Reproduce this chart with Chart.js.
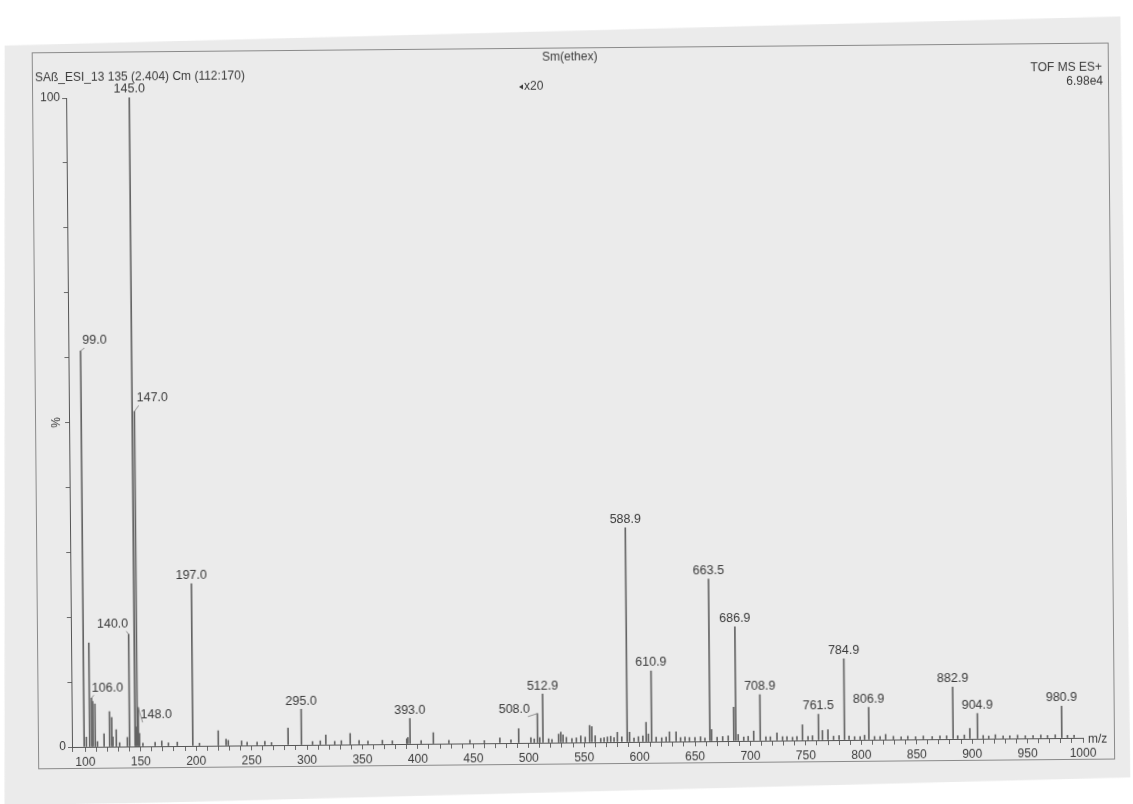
<!DOCTYPE html>
<html><head><meta charset="utf-8">
<script src="https://cdn.jsdelivr.net/npm/chart.js@4/dist/chart.umd.min.js"></script>
<style>
html,body{margin:0;padding:0;background:#ffffff;overflow:hidden;width:1133px;height:804px;}
#wrap{position:absolute;left:0;top:0;width:1133px;height:804px;transform-origin:72px 747px;transform:rotate(-0.52deg);}
canvas{display:block;}
</style></head><body>
<div id="wrap"><canvas id="c" width="1133" height="804"></canvas></div>
<script>
// ---- data (m/z and relative intensity %, as displayed) ----
const mzValues = [
  99.0,101,104,106.0,107,109,111,117,122,124,125,128,131,138,140.0,145.0,146,147.0,148.0,149,
  152,163,169,175,183,197.0,203,220,227,229,241,246,255,262,268,283,295.0,305,312,317,325,331,339,347,355,
  368,377,390,391,393.0,403,414,428,447,460,474,484,491,502,505,
  508.0,510,512.9,518,521,527,529,531,534,539,543,547,551,555,557,560,565,568,571,574,577,580,584,
  588.9,591,595,599,603,606,608,610.9,615,620,624,627,633,637,641,645,650,655,659,
  663.5,665,670,675,680,685,686.9,689,694,698,703,708.9,714,718,724,729,733,738,742,747,752,756,
  761.5,765,770,775,780,784.9,789,794,799,803,806.9,812,817,822,829,836,842,849,856,864,871,877,
  882.9,887,893,898,904.9,910,915,921,928,934,941,948,955,962,968,975,980.9,986,992
];
const intensities = [
  61,1.5,16,7.5,7,6.6,0.8,2,5.4,4.5,1.5,2.6,0.6,1.4,17.3,100,3,51.6,6,2,
  0.5,0.6,0.8,0.5,0.6,25,0.4,2.3,1,0.8,0.7,0.5,0.5,0.6,0.4,2.6,5.5,0.5,0.6,1.5,0.5,0.6,1.7,0.6,0.5,
  0.6,0.5,0.8,1.0,3.9,0.5,1.7,0.5,0.5,0.4,0.8,0.5,2.2,0.8,0.6,
  4.5,0.8,7.5,0.6,0.5,1.3,1.6,1.2,0.8,0.6,0.7,1.0,0.8,2.6,2.4,1.0,0.6,0.7,0.8,0.9,0.7,1.5,0.8,
  33,1.5,0.6,0.8,0.9,3,1.2,10.9,0.7,0.6,0.7,1.5,1.5,0.6,0.7,0.6,0.6,0.7,0.5,
  25,1.8,0.6,0.7,0.8,5.2,17.6,1.0,0.6,0.7,1.5,7.1,0.6,0.6,1.2,0.6,0.6,0.5,0.6,2.4,0.6,0.7,
  4,1.5,1.6,0.6,0.7,12.5,0.6,0.5,0.5,0.7,5,0.5,0.5,0.8,0.5,0.4,0.5,0.4,0.5,0.4,0.5,0.5,
  8,0.5,0.6,1.6,3.9,0.5,0.4,0.6,0.4,0.4,0.5,0.4,0.4,0.5,0.4,0.5,4.9,0.4,0.4
];
const labelledPeaks = [99.0,106.0,140.0,145.0,147.0,148.0,197.0,295.0,393.0,508.0,512.9,588.9,610.9,663.5,686.9,708.9,761.5,784.9,806.9,882.9,904.9,980.9];
const xMin = 88, xMax = 1000, xTickStep = 10, xLabelStep = 50;
const yMin = 0, yMax = 100, yTickStep = 10;
const yTickLabels = [0, 100];
const headerLeft = 'SAß_ESI_13 135 (2.404) Cm (112:170)';
const headerCenter = 'Sm(ethex)';
const magnifyText = 'x20';
const headerRight1 = 'TOF MS ES+';
const headerRight2 = '6.98e4';
const xAxisTitle = 'm/z';
const yAxisTitle = '%';

// ---- style ----
const FONT = '"Liberation Sans", Arial, Helvetica, sans-serif';
const TXT = '#3a3a3a';
const PEAK = '#646464';
const labelShift = {'99.0':[14,-2],'147.0':[18,-5],'140.0':[-16,-2],'106.0':[16,-2],'148.0':[18,16],'508.0':[-23,4]};

const decor = {
  id: 'decor',
  beforeDraw(chart) {
    const ctx = chart.ctx;
    ctx.save();
    ctx.fillStyle = '#ebebeb';
    ctx.beginPath();
    ctx.moveTo(11,45); ctx.lineTo(1127,26); ctx.lineTo(1130,787); ctx.lineTo(4,806);
    ctx.closePath(); ctx.fill();
    ctx.strokeStyle = '#8a8a8a'; ctx.lineWidth = 1;
    ctx.strokeRect(38.5,52.5,1076,716);
    ctx.restore();
  },
  afterDatasetsDraw(chart) {
    const ctx = chart.ctx, xs = chart.scales.x, ys = chart.scales.y;
    ctx.save();
    ctx.fillStyle = TXT;
    ctx.font = '12.5px ' + FONT;
    ctx.textAlign = 'center';
    ctx.textBaseline = 'bottom';
    labelledPeaks.forEach(m => {
      const i = mzValues.indexOf(m);
      if (i < 0) return;
      const px = xs.getPixelForValue(m), py = ys.getPixelForValue(intensities[i]);
      const key = m.toFixed(1);
      const sh = labelShift[key] || [0,0];
      const lx = px + sh[0], lb = py - 2 + sh[1];
      ctx.fillText(key, lx, lb);
      if (sh[0] !== 0) {
        const w = ctx.measureText(key).width;
        const ax = Math.min(Math.max(px, lx - w/2 + 2), lx + w/2 - 2);
        ctx.strokeStyle = '#7a7a7a'; ctx.lineWidth = 0.8;
        ctx.beginPath(); ctx.moveTo(px, py); ctx.lineTo(ax, lb + 1); ctx.stroke();
      }
    });
    ctx.font = '12px ' + FONT;
    ctx.textBaseline = 'middle';
    ctx.textAlign = 'left';
    ctx.fillText(headerLeft, 41, 78);
    ctx.fillText(magnifyText, 530, 91);
    ctx.beginPath(); ctx.moveTo(525,91); ctx.lineTo(529,88.5); ctx.lineTo(529,93.5); ctx.closePath(); ctx.fill();
    ctx.fillText(xAxisTitle, xs.right + 5, 749);
    ctx.textAlign = 'center';
    ctx.fillText(headerCenter, 576, 61.5);
    ctx.textAlign = 'right';
    ctx.fillText(headerRight1, 1108, 77);
    ctx.fillText(headerRight2, 1109, 91);
    ctx.translate(60, ys.getPixelForValue(50));
    ctx.rotate(-Math.PI/2);
    ctx.textAlign = 'center';
    ctx.fillText(yAxisTitle, 0, 0);
    ctx.restore();
  }
};

new Chart(document.getElementById('c'), {
  type: 'bar',
  data: {
    datasets: [{
      data: mzValues.map((m, i) => ({x: m, y: intensities[i]})),
      backgroundColor: PEAK,
      borderWidth: 0,
      barThickness: 1,
      grouped: false
    }]
  },
  options: {
    responsive: false,
    animation: false,
    layout: {padding: {top: 98, right: 50, bottom: 27, left: 0}},
    plugins: {legend: {display: false}, tooltip: {enabled: false}, title: {display: false}},
    scales: {
      x: {
        type: 'linear', min: xMin, max: xMax, offset: false, position: 'bottom',
        border: {display: true, color: '#555', width: 1},
        grid: {display: true, drawOnChartArea: false, drawTicks: true, tickLength: 5, color: '#6a6a6a', offset: false},
        ticks: {stepSize: xTickStep, autoSkip: false, maxRotation: 0, minRotation: 0, padding: 3, color: TXT,
          font: {family: FONT, size: 12},
          callback: v => (v % xLabelStep === 0 && v >= 100) ? String(v) : ''},
        afterFit: s => { s.height = 30; }
      },
      y: {
        type: 'linear', min: yMin, max: yMax, position: 'left',
        border: {display: true, color: '#555', width: 1},
        grid: {display: true, drawOnChartArea: false, tickLength: 4, color: '#6a6a6a'},
        ticks: {stepSize: yTickStep, autoSkip: false, padding: 2, color: TXT,
          font: {family: FONT, size: 12},
          callback: v => yTickLabels.includes(v) ? String(v) : ''},
        afterFit: s => { s.width = 72; }
      }
    }
  },
  plugins: [decor]
});
</script>
</body></html>
